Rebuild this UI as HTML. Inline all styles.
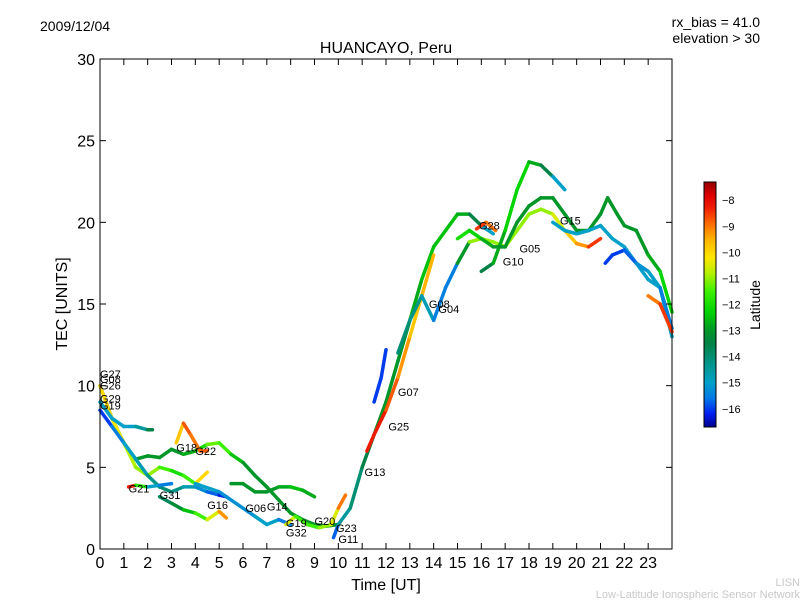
<!DOCTYPE html>
<html><head><meta charset="utf-8"><style>
body{margin:0;background:#fff;width:800px;height:600px;overflow:hidden;font-family:"Liberation Sans","DejaVu Sans",sans-serif;}
svg text{font-family:"Liberation Sans","DejaVu Sans",sans-serif;}
</style></head><body>
<svg id="chart" width="800" height="600">
<text x="40" y="31" font-size="14">2009/12/04</text>
<text x="760" y="27" font-size="14" text-anchor="end">rx_bias = 41.0</text>
<text x="760" y="43" font-size="14" text-anchor="end">elevation &gt; 30</text>
<text x="386" y="53" font-size="16" text-anchor="middle">HUANCAYO, Peru</text>
<text x="386" y="590" font-size="16" text-anchor="middle">Time [UT]</text>
<text transform="translate(67,304) rotate(-90)" font-size="16" text-anchor="middle">TEC [UNITS]</text>
<text x="800" y="586" font-size="11" fill="#c8c8c8" text-anchor="end">LISN</text>
<text x="800" y="598" font-size="11" fill="#c8c8c8" text-anchor="end">Low-Latitude Ionospheric Sensor Network</text>
<g id="marks"></g>
<rect x="100" y="59" width="572" height="490" fill="none" stroke="#000" stroke-width="1"/>
<g id="axes"></g>
<defs><linearGradient id="jet" x1="0" y1="1" x2="0" y2="0" id2="g"></linearGradient></defs>
<rect x="704" y="182" width="12" height="245" fill="url(#jet)" stroke="#000" stroke-width="1"/>
<g id="cbar"></g>
<text transform="translate(760,305) rotate(-90)" font-size="14" text-anchor="middle">Latitude</text>
</svg>
<script>
const xTicks=[0,1,2,3,4,5,6,7,8,9,10,11,12,13,14,15,16,17,18,19,20,21,22,23];
const yTicks=[0,5,10,15,20,25,30];
const cbTicks=[-8,-9,-10,-11,-12,-13,-14,-15,-16];
const latMin=-16.7, latMax=-7.3;
const tracks=[
 {t:[0,0.5,1,1.5,2,2.5,3,3.5,4,4.5,5,5.5,6,6.5,7,7.5,8,8.5,9,9.5,10],v:[10,8,6.5,5.5,5.7,5.6,6.1,5.8,6,6.4,6.5,5.8,5.3,4.5,3.8,3,2.2,1.8,1.5,1.4,1.5],l:[-12.5,-12.5,-12.8,-13,-13,-13,-13,-13,-12.5,-11.5,-11,-12,-13,-13,-13,-13,-13,-13,-13,-13,-13]},
 {t:[0,0.5,1,1.5,2,2.5,3,3.5,4,4.5],v:[10,8,6.5,5,4.5,5,4.8,4.5,4,4.7],l:[-10,-10,-10.5,-11,-11,-11,-12,-12,-11,-9]},
 {t:[0,0.5,1,1.5,2,2.2],v:[9,8,7.5,7.5,7.3,7.3],l:[-15,-15,-15,-15,-14,-13]},
 {t:[0,0.5,1,1.5,2,2.5,3,3.5,4,4.5,5,5.3],v:[8.5,7.5,6.5,5.5,4.5,3.8,3.5,3.8,3.8,3.5,3.3,3.2],l:[-16,-16,-15,-15,-14.5,-14,-14,-14.5,-15,-15.5,-16,-16.5]},
 {t:[2.5,3,3.5,4,4.5,5,5.3],v:[3.2,2.8,2.4,2.2,1.8,2.3,1.9],l:[-14,-13.5,-13,-12,-11,-10,-8.5]},
 {t:[3.2,3.5,3.8,4.2,4.5],v:[6.5,7.7,7,6,6],l:[-11,-8.5,-9,-9,-8.5]},
 {t:[1.2,1.5,2,2.5,3],v:[3.8,3.9,3.8,3.9,4],l:[-8,-8.5,-15,-15,-16]},
 {t:[4,5,6,6.5,7,7.5,8],v:[4,3.5,2.5,2,1.5,1.8,1.5],l:[-15,-15,-15.5,-15,-15,-15,-16]},
 {t:[5.5,6,6.5,7,7.5,8,8.5,9],v:[4,4,3.5,3.5,3.8,3.8,3.6,3.2],l:[-13,-13,-13,-13,-13,-12.5,-12.5,-13]},
 {t:[7.8,8.2,8.7,9.2,9.7,10,10.3],v:[1.5,2,1.5,1.3,1.5,2.5,3.3],l:[-10,-11,-12,-11,-11,-10,-8]},
 {t:[9.8,10,10.5,11,11.5,12,12.5,13,13.5,14,14.5,15,15.5,16,16.5],v:[0.7,1.5,2.5,5,7,9,11.5,14,16.5,18.5,19.5,20.5,20.5,19.8,19.3],l:[-16.5,-15,-14,-14,-13,-13,-13,-13,-12.5,-12.5,-12.5,-12.5,-13,-14,-16]},
 {t:[11.5,11.8,12],v:[9,10.5,12.2],l:[-16,-16,-16]},
 {t:[11.2,11.5,12,12.5,13,13.5,14],v:[6,7,8.5,10.5,13,15.5,18],l:[-8.5,-8,-8.5,-9,-9.5,-10,-9]},
 {t:[12.5,13,13.5,14,14.5,15,15.5,16,16.5,17,17.5,18,18.5,19,19.5,20,20.5,21],v:[12,14,15.5,14,16,17.5,18.8,19,18.8,18.5,19.5,20.5,20.8,20.5,19.5,18.7,18.5,19],l:[-14,-14,-14.5,-15,-16,-15,-11,-11,-11,-11,-11,-11,-11,-11,-10,-9.5,-9,-8]},
 {t:[16,16.5,17,17.5,18,18.5,19,19.5],v:[17,17.5,19.5,22,23.7,23.5,22.8,22],l:[-14,-13,-12.5,-12,-12.5,-13,-14,-16]},
 {t:[15,15.5,16,16.5,17,17.5,18,18.5,19,19.5,20,20.5,21,21.3,21.7,22,22.5,23,23.5,24],v:[19,19.5,19,18.5,18.5,20,21,21.5,21.5,20.5,19.5,19.5,20.5,21.5,20.5,19.8,19.5,18,17,14.5],l:[-12,-12,-12.5,-13,-13,-13,-13,-13,-13,-13,-13,-13,-13,-13,-13,-13,-13,-13,-12.5,-12]},
 {t:[19,19.5,20,20.5,21,21.5,22,22.5,23,23.5,24],v:[20,19.5,19.3,19.5,19.8,19,18.5,17.5,16.5,16,13],l:[-15,-15,-15,-15,-15,-15,-15,-15,-15,-15,-15]},
 {t:[21.2,21.5,22,22.5,23,23.5,24],v:[17.5,18,18.3,17.5,17,16,13.5],l:[-16,-16,-16,-15.5,-15,-15,-16]},
 {t:[23,23.5,24],v:[15.5,15,13.3],l:[-9,-9,-8]},
 {t:[15.8,16.2,16.6],v:[19.6,20,19.5],l:[-8,-9,-9]}
];
const labelNames=["G27","G08","G26","G29","G19","G21","G31","G18","G22","G16","G06","G14","G19","G32","G20","G23","G11","G13","G25","G07","G08","G04","G28","G05","G10","G15"];
const labelT=[0,0,0,0,0,1.2,2.5,3.2,4.0,4.5,6.1,7.0,7.8,7.8,9.0,9.9,10.0,11.1,12.1,12.5,13.8,14.2,15.9,17.6,16.9,19.3];
const labelV=[10.7,10.4,10.0,9.2,8.8,3.7,3.3,6.2,6.0,2.7,2.5,2.6,1.6,1.0,1.7,1.3,0.6,4.7,7.5,9.6,15.0,14.7,19.8,18.4,17.6,20.1];
const X=t=>100+t*572/24, Y=v=>549-v*490/30;
const cmapLat=[-16.7,-16.2,-15.6,-15,-14.3,-13.5,-13,-12.3,-11.5,-10.8,-10.2,-9.5,-9,-8.3,-7.8,-7.3];
const cmapRGB=[[0,0,140],[0,30,240],[0,120,230],[0,160,200],[0,150,140],[0,130,70],[0,150,40],[0,210,0],[60,240,0],[180,240,0],[255,230,0],[255,180,0],[255,120,0],[240,30,0],[220,0,0],[150,0,0]];
function jet(l){l=Math.max(latMin,Math.min(latMax,l));
 for(let i=0;i<cmapLat.length-1;i++){if(l<=cmapLat[i+1]){const f=(l-cmapLat[i])/(cmapLat[i+1]-cmapLat[i]);const a=cmapRGB[i],b=cmapRGB[i+1];
  return `rgb(${Math.round(a[0]+f*(b[0]-a[0]))},${Math.round(a[1]+f*(b[1]-a[1]))},${Math.round(a[2]+f*(b[2]-a[2]))})`;}}
 return 'rgb(150,0,0)';}
const NS='http://www.w3.org/2000/svg';
const grad=document.getElementById('jet');
cmapLat.forEach((l,i)=>{const s=document.createElementNS(NS,'stop');s.setAttribute('offset',(l-latMin)/(latMax-latMin));s.setAttribute('stop-color',`rgb(${cmapRGB[i].join(',')})`);grad.appendChild(s);});
const marks=document.getElementById('marks');
tracks.forEach((tr,ti)=>{
 for(let i=0;i<tr.t.length-1;i++){
  const ln=document.createElementNS(NS,'line');
  ln.setAttribute('x1',X(tr.t[i]));ln.setAttribute('y1',Y(tr.v[i]));
  ln.setAttribute('x2',X(tr.t[i+1]));ln.setAttribute('y2',Y(tr.v[i+1]));
  ln.setAttribute('stroke',jet((tr.l[i]+tr.l[i+1])/2));ln.setAttribute('stroke-width','3.5');ln.setAttribute('stroke-linecap','round');
  
  
  marks.appendChild(ln);
 }
});
labelNames.forEach((n,i)=>{
 const tx=document.createElementNS(NS,'text');
 tx.setAttribute('x',X(labelT[i]));tx.setAttribute('y',Y(labelV[i])+4);tx.setAttribute('font-size','11');
 tx.textContent=n;
 
 
 marks.appendChild(tx);
});
const axes=document.getElementById('axes');
xTicks.forEach(t=>{
 [[549,543],[59,65]].forEach(p=>{
 const l=document.createElementNS(NS,'line');l.setAttribute('x1',X(t));l.setAttribute('x2',X(t));l.setAttribute('y1',p[0]);l.setAttribute('y2',p[1]);l.setAttribute('stroke','#000');
 
 
 axes.appendChild(l);});
 const tx=document.createElementNS(NS,'text');tx.setAttribute('x',X(t));tx.setAttribute('y',568);tx.setAttribute('font-size','16');tx.setAttribute('text-anchor','middle');tx.textContent=t;
 
 
 axes.appendChild(tx);
});
yTicks.forEach(v=>{
 [[100,106],[672,666]].forEach(p=>{
 const l=document.createElementNS(NS,'line');l.setAttribute('x1',p[0]);l.setAttribute('x2',p[1]);l.setAttribute('y1',Y(v));l.setAttribute('y2',Y(v));l.setAttribute('stroke','#000');
 
 
 axes.appendChild(l);});
 const tx=document.createElementNS(NS,'text');tx.setAttribute('x',95);tx.setAttribute('y',Y(v)+6);tx.setAttribute('font-size','16');tx.setAttribute('text-anchor','end');tx.textContent=v;
 
 
 axes.appendChild(tx);
});
const cb=document.getElementById('cbar');
const CY=l=>427-(l-latMin)/(latMax-latMin)*245;
cbTicks.forEach(l=>{
 const tx=document.createElementNS(NS,'text');tx.setAttribute('x',722);tx.setAttribute('y',CY(l)+4);tx.setAttribute('font-size','11');tx.textContent='\u2212'+Math.abs(l);
 
 
 cb.appendChild(tx);
});
</script>
</body></html>
